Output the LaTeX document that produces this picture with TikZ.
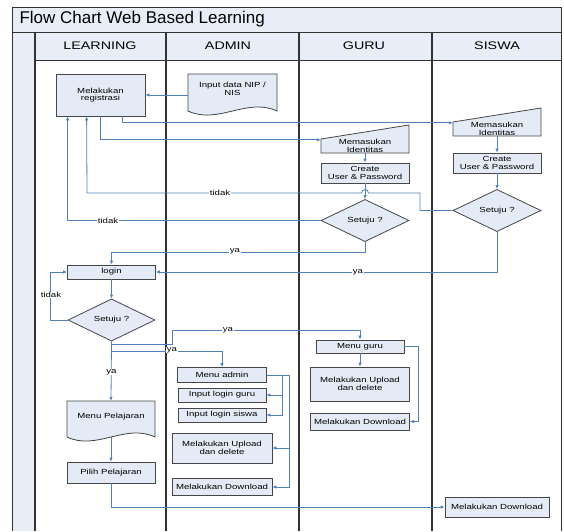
\documentclass[tikz,border=0pt]{standalone}
\usepackage{fontspec}
\setmainfont{Liberation Sans}
\newfontfamily\wideface[FakeStretch=1.3]{Liberation Sans}
\newcommand\boxfont{\wideface\fontsize{7.4}{7.8}\selectfont}
\newcommand\lanefont{\wideface\fontsize{11}{13}\selectfont}
\usetikzlibrary{shapes.geometric, arrows.meta}

\definecolor{boxfill}{RGB}{228,235,246}
\definecolor{headfill}{RGB}{232,238,247}
\definecolor{flowline}{RGB}{79,129,189}
\definecolor{boxline}{RGB}{70,70,70}
\definecolor{laneline}{RGB}{50,50,50}

\tikzset{
  proc/.style={draw=boxline, fill=boxfill, line width=0.8pt, minimum width=88pt, minimum height=14pt, inner sep=0pt, align=center, font=\boxfont},
  decide/.style={diamond, draw=boxline, fill=boxfill, line width=0.8pt, minimum width=88pt, minimum height=41pt, inner sep=0pt, font=\boxfont},
  txt/.style={inner sep=0pt, align=center, font=\boxfont},
  shapebox/.style={draw=boxline, fill=boxfill, line width=0.8pt},
  flow/.style={draw=flowline, line width=0.8pt, -{Latex[length=4pt,width=3.5pt]}},
  lbl/.style={fill=white, inner sep=0.6pt, font=\boxfont},
}

\begin{document}
\begin{tikzpicture}[x=1pt, y=-1pt]
  \useasboundingbox (0,0) rectangle (564,531);

  % swimlanes
  \fill[headfill] (12,7) rectangle (561,32);
  \fill[headfill] (12,32) rectangle (35,531);
  \fill[headfill] (35,32) rectangle (561,60);
  \draw[laneline, line width=1pt] (12,531) -- (12,7) -- (561,7) -- (561,531);
  \draw[laneline, line width=1pt] (12,32) -- (561,32);
  \draw[laneline, line width=0.8pt] (35,60) -- (561,60);
  \foreach \x in {35,166,299,432}
    \draw[laneline, line width=1.2pt] (\x,32) -- (\x,531);

  \node[anchor=west, font=\fontsize{17}{19}\selectfont] (title) at (16,19.5) {Flow Chart Web Based Learning};
  \foreach \name/\x in {LEARNING/100, ADMIN/228, GURU/364, SISWA/497}
    \node[font=\lanefont] (head\name) at (\x,46) {\name};

  % learning
  \node[proc, minimum width=89pt, minimum height=42pt] (reg) at (100.5,95) {Melakukan\\registrasi};
  \node[proc] (login) at (111.5,272) {login};
  \node[decide, minimum width=87pt, minimum height=40pt] (setL) at (111.5,320) {Setuju ?};
  \draw[shapebox] (67,401) -- (155,401) -- (155,437) .. controls (125.7,423) and (96.3,451) .. (67,437) -- cycle;
  \node[txt, minimum width=88pt, minimum height=32pt] (menuP) at (111,417) {Menu Pelajaran};
  \node[proc, minimum height=21pt] (pilih) at (111,472.5) {Pilih Pelajaran};

  % admin
  \draw[shapebox] (188,74) -- (277,74) -- (277,111) .. controls (247.3,97) and (217.7,125) .. (188,111) -- cycle;
  \node[txt, minimum width=89pt, minimum height=29pt] (inp) at (232.5,88.5) {Input data NIP /\\NIS};
  \node[proc, minimum width=89pt, minimum height=15pt] (madmin) at (222,375) {Menu admin};
  \node[proc] (ilg) at (222,395) {Input login guru};
  \node[proc] (ils) at (222,415) {Input login siswa};
  \node[proc, minimum width=100pt, minimum height=30pt] (upA) at (222,448) {Melakukan Upload\\dan delete};
  \node[proc, minimum width=100pt, minimum height=17pt] (dlA) at (222,487) {Melakukan Download};

  % guru
  \draw[shapebox] (321,139) -- (409,125) -- (409,153) -- (321,153) -- cycle;
  \node[txt, minimum width=88pt, minimum height=14pt] (memG) at (365,146) {Memasukan\\Identitas};
  \node[proc, minimum height=20pt] (creG) at (365,173) {Create\\User \& Password};
  \node[decide] (setG) at (365,220.5) {Setuju ?};
  \node[proc, minimum height=13pt] (mguru) at (360,346.5) {Menu guru};
  \node[proc, minimum width=99pt, minimum height=34pt] (upG) at (360,384) {Melakukan Upload\\dan delete};
  \node[proc, minimum width=99pt, minimum height=17pt] (dlG) at (360,421.5) {Melakukan Download};

  % siswa
  \draw[shapebox] (453,122) -- (541,108) -- (541,136) -- (453,136) -- cycle;
  \node[txt, minimum width=88pt, minimum height=14pt] (memS) at (497,129) {Memasukan\\Identitas};
  \node[proc, minimum height=20pt] (creS) at (497,163) {Create\\User \& Password};
  \node[decide] (setS) at (497,210.5) {Setuju ?};
  \node[proc, minimum width=104pt, minimum height=20pt] (dlS) at (497,507) {Melakukan Download};

  % connectors
  \draw[flow] (reg.east -| inp.west) -- (reg.east);
  \draw[flow] ([xshift=21.5pt]reg.south) |- ([yshift=-1pt]memS.north west);
  \draw[flow] (reg.south) |- ([yshift=-1pt]memG.north west);
  \draw[flow] (memG.south) -- (creG.north);
  \draw[flow] (creG.south) -- (setG.north);
  \draw[flow] (memS.south) -- (creS.north);
  \draw[flow] (creS.south) -- (setS.north);
  \draw[flow] (setS.west) -- (420,210.5) -- (420,193) -- (368.5,193)
    arc[start angle=0, end angle=180, radius=3.5pt] -- (87,193) -- ([xshift=31pt]reg.south west);
  \draw[flow] (setG.west) -| ([xshift=12pt]reg.south west);
  \draw[flow] (setG.south) -- ++(0,10.5) -| (login.north);
  \draw[flow] (setS.south) |- (login.east);
  \draw[flow] (login.south) -- (setL.north);
  \draw[flow] (setL.west) -- ++(-17,0) |- (login.west);
  \draw[flow] (setL.south) -- (menuP.north);
  \draw[flow] ([yshift=-3pt]setL.south) -| (172,330) -| (mguru.north);
  \draw[flow] ([yshift=-10pt]setL.south) -| (madmin.north);
  \coordinate (ja) at (282,375);
  \coordinate (jb) at (289,375);
  \draw[flow] (madmin.east) -- (ja) |- (ilg.east);
  \draw[flow] (ja) |- (ils.east);
  \draw[flow] (madmin.east) -- (jb) |- (upA.east);
  \draw[flow] (jb) |- (dlA.east);
  \draw[flow] (mguru.south) -- (upG.north);
  \draw[flow] (mguru.east) -- ++(14,0) |- (dlG.east);
  \draw[flow] ([yshift=-4pt]menuP.south) -- (pilih.north);
  \draw[flow] (pilih.south) |- (dlS.west);

  % labels
  \node[lbl] (tidakS) at (220,193) {tidak};
  \node[lbl] (tidakG) at (108,220.5) {tidak};
  \node[lbl] (yaG) at (235,251.5) {ya};
  \node[lbl] (yaS) at (358,272) {ya};
  \node[lbl] (tidakL) at (51,295) {tidak};
  \node[lbl] (yaL) at (111.5,372) {ya};
  \node[lbl] (yaGuru) at (228,330) {ya};
  \node[lbl] (yaAdmin) at (172,350) {ya};
\end{tikzpicture}
\end{document}
